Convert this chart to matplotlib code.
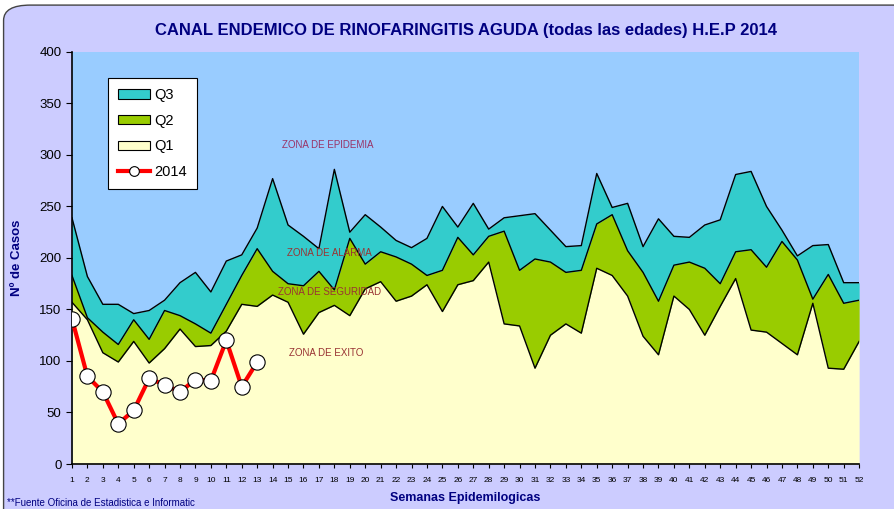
import matplotlib.pyplot as plt
from matplotlib.patches import FancyBboxPatch, Patch
from matplotlib.lines import Line2D

# --- datos: semanas y limites de los cuartiles ---
semanas = list(range(1, 53))
q1 = [157, 140, 108, 99, 119, 98, 112, 131, 114, 115, 129, 155, 153, 164, 157, 126, 147, 154, 144, 170,
      177, 158, 163, 174, 148, 174, 178, 196, 136, 134, 93, 125, 136, 127, 190, 183, 163, 124, 106, 163,
      150, 125, 153, 180, 130, 128, 117, 106, 156, 93, 92, 119]
q2 = [183, 142, 128, 116, 140, 121, 149, 144, 136, 127, 155, 183, 209, 187, 175, 173, 187, 169, 219, 194,
      206, 201, 194, 183, 188, 220, 203, 221, 226, 188, 199, 196, 186, 188, 233, 242, 207, 186, 158, 193,
      196, 190, 175, 206, 208, 191, 216, 198, 160, 184, 156, 159]
q3 = [239, 182, 155, 155, 146, 149, 159, 176, 186, 167, 197, 203, 229, 277, 232, 221, 209, 286, 225, 242,
      230, 217, 210, 219, 250, 230, 253, 228, 239, 241, 243, 227, 211, 212, 282, 249, 253, 211, 238, 221,
      220, 232, 237, 281, 284, 250, 227, 202, 212, 213, 176, 176]
semanas_2014 = list(range(1, 14))
casos_2014 = [141, 85, 70, 39, 52, 83, 77, 70, 82, 81, 120, 75, 99]

plt.rcParams['font.family'] = ['Liberation Sans', 'DejaVu Sans']
navy = '#000080'
fig = plt.figure(figsize=(8.94, 5.09), dpi=100)
fig.patch.set_facecolor('white')
marco = FancyBboxPatch((0.004, -0.05), 1.2, 1.04, boxstyle='round,pad=0,rounding_size=0.03',
                       transform=fig.transFigure, facecolor='#CCCCFF', edgecolor='#444444', lw=1.0,
                       zorder=-10)
fig.patches.append(marco)

ax = fig.add_axes([0.0805, 0.0884, 0.8805, 0.8096])
ax.set_facecolor('#99CCFF')

# zonas del canal endemico
ax.fill_between(semanas, 0, q1, color='#FFFFCC', lw=0)
ax.fill_between(semanas, q1, q2, color='#99CC00', lw=0)
ax.fill_between(semanas, q2, q3, color='#33CCCC', lw=0)
for serie in (q1, q2, q3):
    ax.plot(semanas, serie, color='black', lw=1.0)

ax.plot(semanas_2014, casos_2014, color='red', lw=3, marker='o', markersize=11,
        markerfacecolor='white', markeredgecolor='black', markeredgewidth=0.8, zorder=5)

ax.text(17.6, 310, 'ZONA DE EPIDEMIA', fontsize=7, color='#993366', ha='center', va='center')
ax.text(17.7, 205, 'ZONA DE ALARMA', fontsize=7, color='#993333', ha='center', va='center')
ax.text(17.7, 167, 'ZONA DE SEGURIDAD', fontsize=7, color='#993333', ha='center', va='center')
ax.text(17.5, 108, 'ZONA DE EXITO', fontsize=7, color='#993333', ha='center', va='center')

ax.set_xlim(1, 52)
ax.set_ylim(0, 400)
ax.set_yticks(range(0, 401, 50))
ax.set_xticks(semanas)
ax.tick_params(axis='x', labelsize=6, length=3, direction='out', pad=6)
ax.tick_params(axis='y', labelsize=9.5, length=4, direction='out')
for lado in ('top', 'right'):
    ax.spines[lado].set_visible(False)
ax.spines['left'].set_linewidth(1.2)
ax.spines['bottom'].set_linewidth(1.2)

ax.set_title('CANAL ENDEMICO DE RINOFARINGITIS AGUDA (todas las edades) H.E.P 2014',
             fontsize=12, fontweight='bold', color=navy, pad=12)
ax.set_ylabel('Nº de Casos', fontsize=9.5, fontweight='bold', color=navy, labelpad=12)
ax.set_xlabel('Semanas Epidemilogicas', fontsize=9, fontweight='bold', color=navy, labelpad=6)

fig.text(0.008, 0.005, '**Fuente Oficina de Estadistica e Informatic', fontsize=7, color=navy)

handles = [Patch(facecolor='#33CCCC', edgecolor='black', lw=0.8),
           Patch(facecolor='#99CC00', edgecolor='black', lw=0.8),
           Patch(facecolor='#FFFFCC', edgecolor='black', lw=0.8),
           Line2D([], [], color='red', lw=3, marker='o', markersize=7,
                  markerfacecolor='white', markeredgecolor='black', markeredgewidth=0.8)]
leg = ax.legend(handles, ['Q3', 'Q2', 'Q1', '2014'], loc='upper left', bbox_to_anchor=(0.0457, 0.937),
                fontsize=10.5, frameon=True, fancybox=False, edgecolor='black', facecolor='white',
                framealpha=1, handlelength=2.2, handleheight=0.6, borderpad=0.7, labelspacing=0.8,
                handletextpad=0.3, borderaxespad=0)
leg.get_frame().set_linewidth(0.8)

fig.savefig('out.png', dpi=100)
